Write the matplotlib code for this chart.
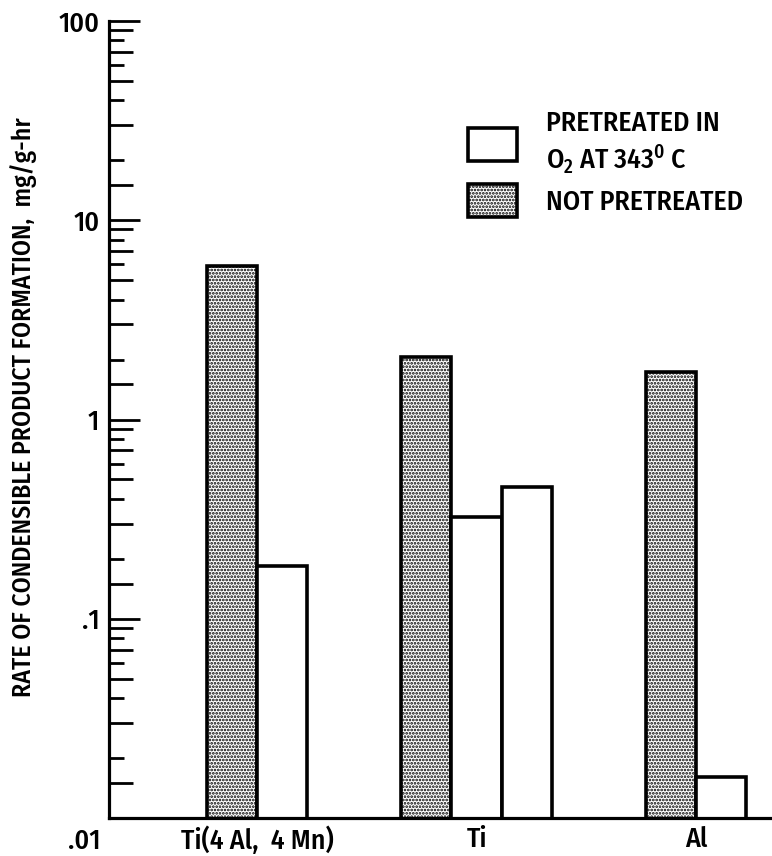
import matplotlib
matplotlib.use("Agg")
import matplotlib.pyplot as plt
from matplotlib import font_manager as fm
from matplotlib.ticker import LogLocator, NullFormatter, FixedLocator, FixedFormatter, NullLocator
import numpy as np

available = {f.name for f in fm.fontManager.ttflist}
prefs = ['Fira Sans Condensed', 'IBM Plex Sans Condensed', 'Roboto Condensed',
         'Archivo Narrow', 'PT Sans Narrow', 'Sofia Sans Semi Condensed']
FONT = next((p for p in prefs if p in available), 'DejaVu Sans')
plt.rcParams['font.family'] = [FONT, 'DejaVu Sans']
plt.rcParams['font.weight'] = 'medium'
plt.rcParams['axes.labelweight'] = 'medium'
plt.rcParams['mathtext.fontset'] = 'custom'
plt.rcParams['mathtext.rm'] = FONT + ':medium'
plt.rcParams['mathtext.it'] = FONT + ':medium'
plt.rcParams['hatch.linewidth'] = 1.3
plt.rcParams['hatch.color'] = 'black'

# ---- data ----
categories = ["Ti(4 Al,  4 Mn)", "Ti", "Al"]
not_pretreated = [5.9, 2.05, 1.73]
pretreated = [[0.184], [0.325, 0.46], [0.0161]]
y_ticks = [0.01, 0.1, 1, 10, 100]
y_tick_labels = ['', '.1', '1', '10', '100']
ylabel = "RATE OF CONDENSIBLE PRODUCT FORMATION,  mg/g-hr"
legend_labels = ["PRETREATED IN\nO$_2$ AT 343$^0$ C", "NOT PRETREATED"]

FS = 20
W, H = 772, 856
fig = plt.figure(figsize=(W / 100, H / 100), dpi=100)
ax = fig.add_axes([109 / W, 1 - 818 / H, 1 - 109 / W, (818 - 21) / H])

w = 0.228
x = np.arange(len(categories))
lw = 2.6
h_not = h_pre = None
for i in range(len(categories)):
    n = 1 + len(pretreated[i])
    offsets = (np.arange(n) - (n - 1) / 2) * w
    b = ax.bar(x[i] + offsets[0], not_pretreated[i], width=w, facecolor='white',
               edgecolor='black', hatch='.....', linewidth=lw, zorder=2)
    h_not = h_not or b[0]
    for j, v in enumerate(pretreated[i]):
        b2 = ax.bar(x[i] + offsets[j + 1], v, width=w, facecolor='white',
                    edgecolor='black', linewidth=lw, zorder=2)
        h_pre = h_pre or b2[0]

ax.set_yscale('log')
ax.set_ylim(0.01, 100)
ax.set_xlim(-0.674, 2.346)

for s in ['top', 'right']:
    ax.spines[s].set_visible(False)
ax.spines['left'].set_linewidth(2.3)
ax.spines['bottom'].set_linewidth(2.3)

ax.yaxis.set_major_locator(FixedLocator(y_ticks))
ax.yaxis.set_major_formatter(FixedFormatter(y_tick_labels))
ax.yaxis.set_minor_locator(LogLocator(base=10, subs=[2, 4, 6, 8]))
ax.yaxis.set_minor_formatter(NullFormatter())
ax.tick_params(axis='y', which='major', direction='in', length=22, width=2.0,
               pad=7, labelsize=FS)
ax.tick_params(axis='y', which='minor', direction='in', length=11, width=2.0)

sec = ax.secondary_yaxis('left')
sec.yaxis.set_major_locator(LogLocator(base=10, subs=[1.5, 3, 5, 7, 9]))
sec.yaxis.set_major_formatter(NullFormatter())
sec.yaxis.set_minor_locator(NullLocator())
sec.tick_params(which='major', direction='in', length=17, width=2.0)
sec.spines['left'].set_visible(False)

ax.annotate('.01', xy=(0, 0.01), xycoords=('axes fraction', 'data'),
            xytext=(-6, -7), textcoords='offset points', ha='right', va='top',
            fontsize=FS)

ax.set_xticks(x)
ax.set_xticklabels(categories)
ax.tick_params(axis='x', length=0, pad=6, labelsize=FS)

ax.set_ylabel(ylabel, fontsize=18.5)
ax.yaxis.set_label_coords(-0.108, 0.515)

ax.legend([h_pre, h_not], legend_labels, loc='upper left',
          bbox_to_anchor=((468 - 109) / 663, (818 - 110) / 797),
          frameon=False, borderpad=0, borderaxespad=0, fontsize=FS,
          handlelength=1.75, handleheight=1.45, handletextpad=1.05,
          labelspacing=0.3)

fig.savefig('out.png', dpi=100)
